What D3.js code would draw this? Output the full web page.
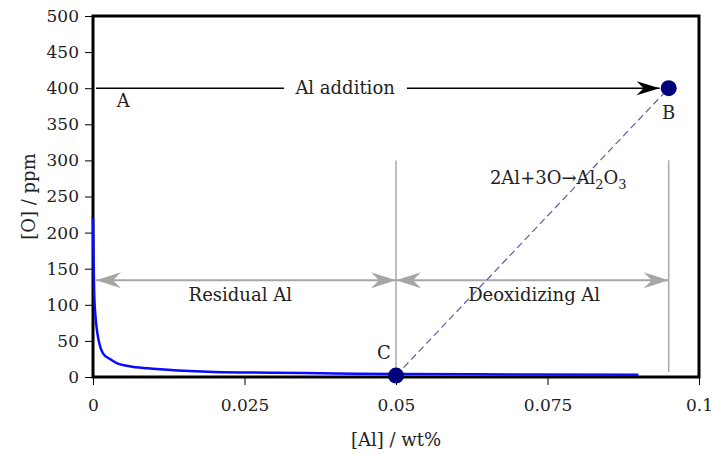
<!DOCTYPE html>
<html>
<head>
<meta charset="utf-8">
<script src="https://cdn.jsdelivr.net/npm/d3@7"></script>
<style>
  body { margin: 0; background: #fff; }
  text { font-family: "DejaVu Serif", serif; fill: #222; }
</style>
</head>
<body>
<div id="chart"></div>
<script>
// values
const xTicks = [0, 0.025, 0.05, 0.075, 0.1];
const xTickLabels = ['0', '0.025', '0.05', '0.075', '0.1'];
const yTicks = [0, 50, 100, 150, 200, 250, 300, 350, 400, 450, 500];

// equilibrium curve [Al] wt% vs [O] ppm
const curveAl = [0, 0.0001, 0.0002, 0.0004, 0.0007, 0.001, 0.0017, 0.0028, 0.004, 0.006, 0.009, 0.014, 0.02, 0.03, 0.04, 0.05, 0.07, 0.09];
const curveO  = [220, 160, 115, 85, 62, 48, 32, 25, 19, 15, 12, 9, 7, 6, 5, 4, 3.5, 3];

const pointNames = ['B', 'C'];
const pointAl = [0.095, 0.05];
const pointO = [400, 2];

const W = 713, H = 454;
const margin = { top: 16, right: 14, bottom: 77, left: 93 };
const width = W - margin.left - margin.right;
const height = H - margin.top - margin.bottom;
const font = '"DejaVu Serif", serif';

const svg = d3.select('#chart').append('svg')
    .attr('width', W)
    .attr('height', H);

const defs = svg.append('defs');
defs.append('marker')
    .attr('id', 'blackHead')
    .attr('markerUnits', 'userSpaceOnUse')
    .attr('viewBox', '-24 -8 26 16')
    .attr('markerWidth', 26).attr('markerHeight', 16)
    .attr('refX', 0).attr('refY', 0)
    .attr('orient', 'auto')
    .append('path')
    .attr('d', 'M0,0 L-23,-7 L-16,0 L-23,7 Z')
    .attr('fill', '#000');
defs.append('marker')
    .attr('id', 'grayHead')
    .attr('markerUnits', 'userSpaceOnUse')
    .attr('viewBox', '-26 -9 28 18')
    .attr('markerWidth', 28).attr('markerHeight', 18)
    .attr('refX', 0).attr('refY', 0)
    .attr('orient', 'auto-start-reverse')
    .append('path')
    .attr('d', 'M0,0 L-25,-8 L-17,0 L-25,8 Z')
    .attr('fill', '#a6a6a6');

const g = svg.append('g')
    .attr('transform', `translate(${margin.left},${margin.top})`);

const x = d3.scaleLinear().domain([0, 0.1]).range([0, width]);
const y = d3.scaleLinear().domain([0, 500]).range([height, 0]);

// axes
const xAxis = g.append('g')
    .attr('transform', `translate(0,${height})`)
    .call(d3.axisBottom(x).tickValues(xTicks).tickSize(8).tickPadding(14)
        .tickFormat((d, i) => xTickLabels[i]));
const yAxis = g.append('g')
    .call(d3.axisLeft(y).tickValues(yTicks).tickSize(8).tickPadding(6));

[xAxis, yAxis].forEach(a => {
    a.attr('font-family', font);
    a.select('.domain').remove();
    a.selectAll('line').attr('stroke', '#000').attr('stroke-width', 1);
    a.selectAll('text')
        .style('font-size', '17px')
        .attr('fill', '#222');
});

// frame
g.append('rect')
    .attr('x', 0).attr('y', 0)
    .attr('width', width).attr('height', height)
    .attr('fill', 'none')
    .attr('stroke', '#000')
    .attr('stroke-width', 3);

// axis titles
g.append('text')
    .attr('transform', `translate(${-58},${height / 2}) rotate(-90)`)
    .attr('text-anchor', 'middle')
    .style('font-size', '18px')
    .text('[O] / ppm');
g.append('text')
    .attr('x', width / 2)
    .attr('y', height + 69)
    .attr('text-anchor', 'middle')
    .style('font-size', '18px')
    .text('[Al] / wt%');

// gray guide lines
g.append('line')
    .attr('x1', x(0.05)).attr('x2', x(0.05))
    .attr('y1', y(300)).attr('y2', y(0))
    .attr('stroke', '#aaa').attr('stroke-width', 1.5);
g.append('line')
    .attr('x1', x(0.095)).attr('x2', x(0.095))
    .attr('y1', y(300)).attr('y2', y(7))
    .attr('stroke', '#aaa').attr('stroke-width', 1.5);

// gray double arrows
const arrowY = 134;
g.append('line')
    .attr('x1', x(0.0005)).attr('x2', x(0.05))
    .attr('y1', y(arrowY)).attr('y2', y(arrowY))
    .attr('stroke', '#a6a6a6').attr('stroke-width', 2)
    .attr('marker-start', 'url(#grayHead)')
    .attr('marker-end', 'url(#grayHead)');
g.append('line')
    .attr('x1', x(0.05)).attr('x2', x(0.095))
    .attr('y1', y(arrowY)).attr('y2', y(arrowY))
    .attr('stroke', '#a6a6a6').attr('stroke-width', 2)
    .attr('marker-start', 'url(#grayHead)')
    .attr('marker-end', 'url(#grayHead)');

g.append('text')
    .attr('x', x(0.0243)).attr('y', y(arrowY) + 21)
    .attr('text-anchor', 'middle')
    .style('font-size', '18px')
    .text('Residual Al');
g.append('text')
    .attr('x', x(0.0728)).attr('y', y(arrowY) + 21)
    .attr('text-anchor', 'middle')
    .style('font-size', '18px')
    .text('Deoxidizing Al');

// dashed stoichiometric line C -> B
g.append('line')
    .attr('x1', x(pointAl[1])).attr('y1', y(pointO[1]))
    .attr('x2', x(pointAl[0])).attr('y2', y(pointO[0]))
    .attr('stroke', '#5a5aa8').attr('stroke-width', 1.2)
    .attr('stroke-dasharray', '7,4');

// equilibrium curve
const curveData = curveAl.map((a, i) => ({ al: a, o: curveO[i] }));
g.append('path')
    .datum(curveData)
    .attr('fill', 'none')
    .attr('stroke', '#0a0aff')
    .attr('stroke-width', 2.5)
    .attr('d', d3.line().x(d => x(d.al)).y(d => y(d.o)).curve(d3.curveMonotoneX));

// Al addition arrow
g.append('line')
    .attr('x1', x(0.0005)).attr('x2', x(0.0315))
    .attr('y1', y(400)).attr('y2', y(400))
    .attr('stroke', '#000').attr('stroke-width', 1.5);
g.append('line')
    .attr('x1', x(0.0518)).attr('x2', x(0.0935))
    .attr('y1', y(400)).attr('y2', y(400))
    .attr('stroke', '#000').attr('stroke-width', 1.5)
    .attr('marker-end', 'url(#blackHead)');
g.append('text')
    .attr('x', x(0.0416)).attr('y', y(400) + 6)
    .attr('text-anchor', 'middle')
    .style('font-size', '18px')
    .text('Al addition');

// points B, C
g.selectAll('.pt')
    .data(pointNames.map((n, i) => ({ name: n, al: pointAl[i], o: pointO[i] })))
    .enter().append('circle')
    .attr('class', 'pt')
    .attr('cx', d => x(d.al))
    .attr('cy', d => y(d.o))
    .attr('r', 8)
    .attr('fill', '#00007a');

// letter labels
g.append('text').attr('x', x(0.005)).attr('y', y(400) + 19)
    .attr('text-anchor', 'middle').style('font-size', '18px').text('A');
g.append('text').attr('x', x(0.095)).attr('y', y(400) + 31)
    .attr('text-anchor', 'middle').style('font-size', '18px').text('B');
g.append('text').attr('x', x(0.05) - 12).attr('y', y(0) - 18)
    .attr('text-anchor', 'middle').style('font-size', '18px').text('C');

// reaction label
const rx = g.append('text')
    .attr('x', x(0.0655)).attr('y', y(300) + 24)
    .style('font-size', '18px');
rx.append('tspan').text('2Al+3O\u2192Al');
rx.append('tspan').attr('dy', 5).style('font-size', '13px').text('2');
rx.append('tspan').attr('dy', -5).text('O');
rx.append('tspan').attr('dy', 5).style('font-size', '13px').text('3');
</script>
</body>
</html>
